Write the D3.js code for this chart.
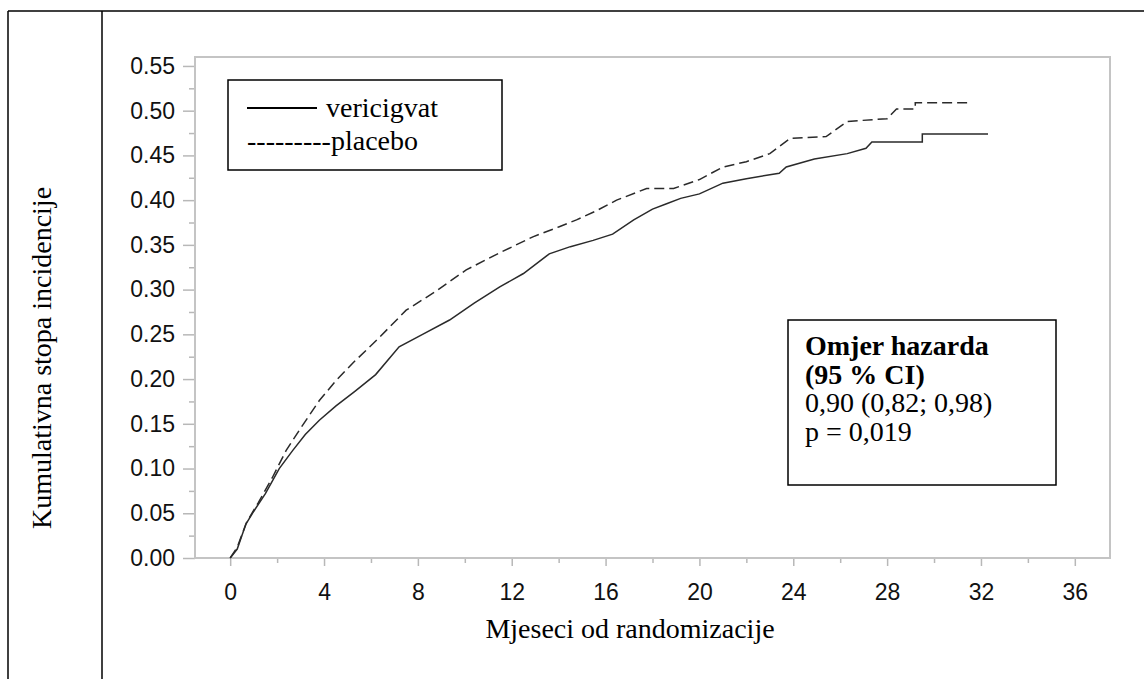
<!DOCTYPE html>
<html>
<head>
<meta charset="utf-8">
<script src="https://cdn.jsdelivr.net/npm/d3@7.9.0/dist/d3.min.js"></script>
<style>
  body { margin: 0; background: #fff; }
  .tick text { font-family: "Liberation Sans", Arial, sans-serif; font-size: 23px; fill: #111; }
  .serif { font-family: "Liberation Serif", "Times New Roman", serif; fill: #000; }
</style>
</head>
<body>
<svg id="chart" width="1144" height="679"></svg>
<script>
// cumulative incidence: [month, rate]
const vericigvat = [
  [0, 0], [0.3, 0.01], [0.67, 0.038], [1.0, 0.052], [1.5, 0.072], [2.09, 0.1],
  [2.66, 0.12], [3.2, 0.138], [3.8, 0.154], [4.51, 0.17], [5.3, 0.186], [6.2, 0.205],
  [7.2, 0.236], [8.2, 0.25], [9.35, 0.266], [10.4, 0.285], [11.49, 0.303], [12.5, 0.318],
  [13.6, 0.34], [14.5, 0.348], [15.47, 0.355], [16.3, 0.362], [17.2, 0.378], [18.0, 0.39],
  [18.6, 0.396], [19.2, 0.402], [20.0, 0.407], [21.0, 0.419], [22.0, 0.424], [23.4, 0.43],
  [23.7, 0.437], [24.9, 0.446], [26.3, 0.452], [27.1, 0.458], [27.35, 0.465],
  [29.5, 0.465], [29.5, 0.474], [32.3, 0.474]
];
const placebo = [
  [0, 0], [0.3, 0.012], [0.7, 0.04], [1.2, 0.062], [1.8, 0.09], [2.38, 0.12],
  [3.0, 0.145], [3.8, 0.176], [4.5, 0.198], [5.23, 0.218], [6.3, 0.245], [7.5, 0.277],
  [8.7, 0.297], [10.06, 0.322], [11.4, 0.34], [12.9, 0.359], [14.0, 0.37], [14.76, 0.378],
  [15.6, 0.388], [16.47, 0.4], [17.75, 0.413], [18.9, 0.413], [20.0, 0.423], [21.0, 0.437],
  [22.0, 0.443], [23.0, 0.452], [23.87, 0.469], [25.4, 0.471], [26.3, 0.488], [28.0, 0.491],
  [28.4, 0.502], [29.2, 0.502], [29.2, 0.509], [31.55, 0.509]
];
const xTicks = [0, 4, 8, 12, 16, 20, 24, 28, 32, 36];
const xMinor = [2, 6, 10, 14, 18, 22, 26, 30, 34];
const yTicks = [0, 0.05, 0.1, 0.15, 0.2, 0.25, 0.3, 0.35, 0.4, 0.45, 0.5, 0.55];
const yMinor = [0.025, 0.075, 0.125, 0.175, 0.225, 0.275, 0.325, 0.375, 0.425, 0.475, 0.525];
const hazardLines = ["Omjer hazarda", "(95 % CI)", "0,90 (0,82; 0,98)", "p = 0,019"];

const svg = d3.select('#chart');
const plot = { left: 195, top: 57, right: 1110, bottom: 558 };

const x = d3.scaleLinear().domain([-1.5, 37.5]).range([plot.left, plot.right]);
const y = d3.scaleLinear().domain([0, 0.56]).range([plot.bottom, plot.top]);

// outer table-like border
svg.append('line').attr('x1', 8).attr('y1', 11).attr('x2', 1144).attr('y2', 11)
  .attr('stroke', '#000').attr('stroke-width', 1.5);
[8, 102].forEach(px => {
  svg.append('line').attr('x1', px).attr('y1', 11).attr('x2', px).attr('y2', 679)
    .attr('stroke', '#000').attr('stroke-width', 1.5);
});

// axes
const gy = svg.append('g').attr('transform', `translate(${plot.left},0)`)
  .call(d3.axisLeft(y).tickValues(yTicks).tickSize(12).tickPadding(8).tickFormat(d3.format('.2f')));
svg.append('g').attr('transform', `translate(${plot.left},0)`)
  .call(d3.axisLeft(y).tickValues(yMinor).tickSize(6).tickFormat(''));
const gx = svg.append('g').attr('transform', `translate(0,${plot.bottom})`)
  .call(d3.axisBottom(x).tickValues(xTicks).tickSize(8).tickPadding(18));
svg.append('g').attr('transform', `translate(0,${plot.bottom})`)
  .call(d3.axisBottom(x).tickValues(xMinor).tickSize(5).tickFormat(''));

svg.selectAll('.domain').remove();
svg.selectAll('.tick line').attr('stroke', '#b8b8b8').attr('stroke-width', 1.5);

// plot frame
svg.append('rect')
  .attr('x', plot.left).attr('y', plot.top)
  .attr('width', plot.right - plot.left).attr('height', plot.bottom - plot.top)
  .attr('fill', 'none').attr('stroke', '#c4c4c4').attr('stroke-width', 2);

// curves
const line = d3.line().x(d => x(d[0])).y(d => y(d[1]));
svg.append('path').datum(vericigvat).attr('d', line)
  .attr('fill', 'none').attr('stroke', '#2a2a2a').attr('stroke-width', 1.5);
svg.append('path').datum(placebo).attr('d', line)
  .attr('fill', 'none').attr('stroke', '#2a2a2a').attr('stroke-width', 1.5)
  .attr('stroke-dasharray', '10,5');

// axis titles
svg.append('text').attr('class', 'serif')
  .attr('x', 630).attr('y', 638).attr('text-anchor', 'middle')
  .attr('font-size', 28).text('Mjeseci od randomizacije');
svg.append('text').attr('class', 'serif')
  .attr('transform', 'translate(51,358) rotate(-90)').attr('text-anchor', 'middle')
  .attr('font-size', 28).text('Kumulativna stopa incidencije');

// legend box
svg.append('rect').attr('x', 228).attr('y', 80).attr('width', 274).attr('height', 90)
  .attr('fill', '#fff').attr('stroke', '#000').attr('stroke-width', 1.5);
svg.append('line').attr('x1', 247).attr('x2', 317).attr('y1', 108).attr('y2', 108)
  .attr('stroke', '#000').attr('stroke-width', 2);
svg.append('text').attr('class', 'serif').attr('x', 326).attr('y', 117)
  .attr('font-size', 28).text('vericigvat');
svg.append('text').attr('class', 'serif').attr('x', 247).attr('y', 150)
  .attr('font-size', 28).text('---------placebo');

// hazard ratio box
svg.append('rect').attr('x', 788).attr('y', 320).attr('width', 268).attr('height', 165)
  .attr('fill', '#fff').attr('stroke', '#000').attr('stroke-width', 1.5);
svg.append('g').selectAll('text').data(hazardLines).join('text')
  .attr('class', 'serif')
  .attr('x', 805).attr('y', (d, i) => 355 + i * 28.5)
  .attr('font-size', 28)
  .attr('font-weight', (d, i) => i < 2 ? 'bold' : 'normal')
  .text(d => d);
</script>
</body>
</html>
